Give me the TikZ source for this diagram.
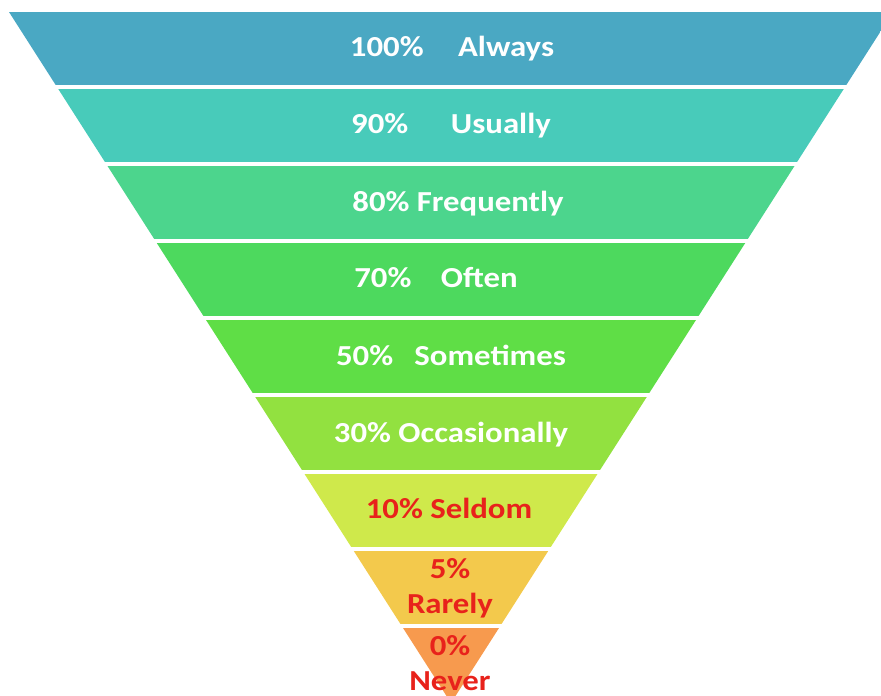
\documentclass[tikz,border=0pt]{standalone}
\usepackage{fontspec}
\setmainfont{Carlito}

\definecolor{bandA}{HTML}{4AA8C3}
\definecolor{bandB}{HTML}{48CBBA}
\definecolor{bandC}{HTML}{4CD58D}
\definecolor{bandD}{HTML}{4DD95E}
\definecolor{bandE}{HTML}{5FDE46}
\definecolor{bandF}{HTML}{92E140}
\definecolor{bandG}{HTML}{CFE94B}
\definecolor{bandH}{HTML}{F3C94C}
\definecolor{bandI}{HTML}{F79A4E}
\definecolor{lblred}{HTML}{E8221B}

\newcommand{\stretchtxt}[1]{\scalebox{1.13}[1]{#1}}

\tikzset{
  lbl/.style={font=\bfseries\fontsize{14.5}{17.5}\selectfont, text=white, align=center, inner sep=0pt, anchor=base},
  redlbl/.style={lbl, text=lblred}
}

\begin{document}
\begin{tikzpicture}[x=0.5pt, y=-0.5pt]

\useasboundingbox (0,0) rectangle (881,695);

% funnel bands
\begin{scope}
\clip (9,12) -- (893,12) -- (451,703) -- cycle;
\foreach \c [count=\i from 0] in {bandA,bandB,bandC,bandD,bandE,bandF,bandG,bandH,bandI} {
	\fill [\c] (0,12+77*\i) rectangle (900,85+77*\i);
}
\end{scope}

% labels
\node [lbl] (always) at (452,57) {\stretchtxt{100\%\hspace{1.05em}Always}};
\node [lbl] (usually) at (451,134) {\stretchtxt{90\%\hspace{1.3em}Usually}};
\node [lbl] (frequently) at (458,211) {\stretchtxt{80\% Frequently}};
\node [lbl] (often) at (436,287) {\stretchtxt{70\%\hspace{0.9em}Often}};
\node [lbl] (sometimes) at (451,365) {\stretchtxt{50\%\hspace{0.65em}Sometimes}};
\node [lbl] (occasionally) at (451,442) {\stretchtxt{30\% Occasionally}};
\node [redlbl] (seldom) at (449,518) {\stretchtxt{10\% Seldom}};
\node [redlbl] (rarely) at (450,613) {\stretchtxt{5\%}\\\stretchtxt{Rarely}};
\node [redlbl] (never) at (450,690) {\stretchtxt{0\%}\\\stretchtxt{Never}};

\end{tikzpicture}
\end{document}
